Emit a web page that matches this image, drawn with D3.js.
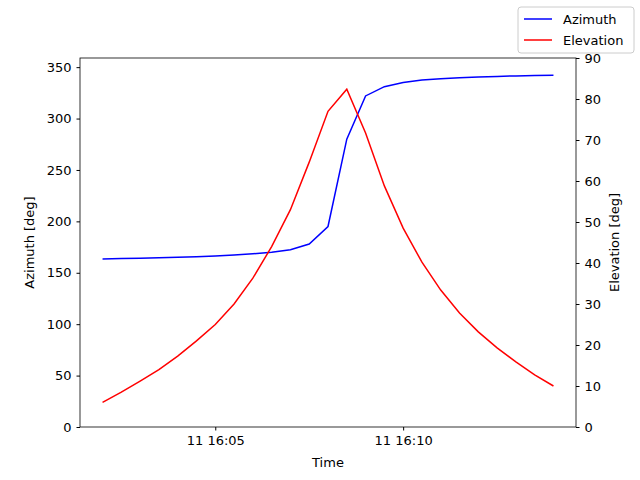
<!DOCTYPE html><html><head><script src="https://cdn.jsdelivr.net/npm/d3@7"></script>
<style>body{margin:0;background:#fff}text{font-family:"DejaVu Sans",sans-serif;font-size:13px}</style></head><body>
<svg id="c" width="640" height="480"></svg>
<script>
const startTime = "2024-01-11T16:02:00";
const stepSeconds = 30;
const azimuth = [163.5,163.8,164.1,164.5,165,165.6,166.3,167.2,168.5,170,172.5,178,195,280,322,331,335,337.5,338.8,339.7,340.4,341,341.5,341.9,342.2];
const elevation = [6,8.5,11.2,14,17.3,21,25,30,36.3,44,53,64.6,77,82.4,71.7,58.8,48.5,40.2,33.4,27.8,23.2,19.3,15.9,12.7,10];
const timeTicks = ["2024-01-11T16:05:00","2024-01-11T16:10:00"];
const azTicks = [0,50,100,150,200,250,300,350];
const elTicks = [0,10,20,30,40,50,60,70,80,90];

const t0 = new Date(startTime);
const times = azimuth.map((_,i)=>new Date(t0.getTime()+i*stepSeconds*1000));
const L=80,R=576,T=58,B=427;
const svg=d3.select("#c");
const x=d3.scaleTime().domain([new Date(t0.getTime()-36000),new Date(t0.getTime()+12*60000+36000)]).range([L,R]);
const yA=d3.scaleLinear().domain([0,358.9]).range([B,T]);
const yE=d3.scaleLinear().domain([0,90]).range([B,T]);
svg.append("g").attr("transform",`translate(0,${B})`).call(d3.axisBottom(x).tickValues(timeTicks.map(d=>new Date(d))).tickFormat(d3.timeFormat("%d %H:%M")).tickSizeOuter(0).tickSize(3.5).tickPadding(5));
svg.append("g").attr("transform",`translate(${L},0)`).call(d3.axisLeft(yA).tickValues(azTicks).tickSizeOuter(0).tickSize(3.5).tickPadding(5));
svg.append("g").attr("transform",`translate(${R},0)`).call(d3.axisRight(yE).tickValues(elTicks).tickSizeOuter(0).tickSize(3.5).tickPadding(5));
svg.selectAll(".domain").remove();
svg.selectAll(".tick text").attr("font-size",13).attr("font-family","DejaVu Sans").attr("fill","#000");
svg.selectAll(".tick line").attr("stroke","#000");
svg.append("rect").attr("x",L).attr("y",T).attr("width",R-L).attr("height",B-T).attr("fill","none").attr("stroke","#000").attr("stroke-width",0.8);
svg.append("path").datum(azimuth).attr("fill","none").attr("stroke","blue").attr("stroke-width",1.5)
 .attr("d",d3.line().x((d,i)=>x(times[i])).y(d=>yA(d)));
svg.append("path").datum(elevation).attr("fill","none").attr("stroke","red").attr("stroke-width",1.5)
 .attr("d",d3.line().x((d,i)=>x(times[i])).y(d=>yE(d)));
svg.append("text").attr("x",(L+R)/2).attr("y",467).attr("text-anchor","middle").text("Time");
svg.append("text").attr("transform",`translate(34,${(T+B)/2}) rotate(-90)`).attr("text-anchor","middle").text("Azimuth [deg]");
svg.append("text").attr("transform",`translate(619,${(T+B)/2}) rotate(-90)`).attr("text-anchor","middle").text("Elevation [deg]");
const lg=svg.append("g");
lg.append("rect").attr("x",518).attr("y",7).attr("width",116).attr("height",46).attr("rx",3).attr("fill","#fff").attr("stroke","#ccc");
[["Azimuth","blue",19],["Elevation","red",40]].forEach(([n,c,y])=>{
 lg.append("line").attr("x1",524).attr("x2",552).attr("y1",y).attr("y2",y).attr("stroke",c).attr("stroke-width",1.5);
 lg.append("text").attr("x",563).attr("y",y+4.5).text(n);
});
</script></body></html>
